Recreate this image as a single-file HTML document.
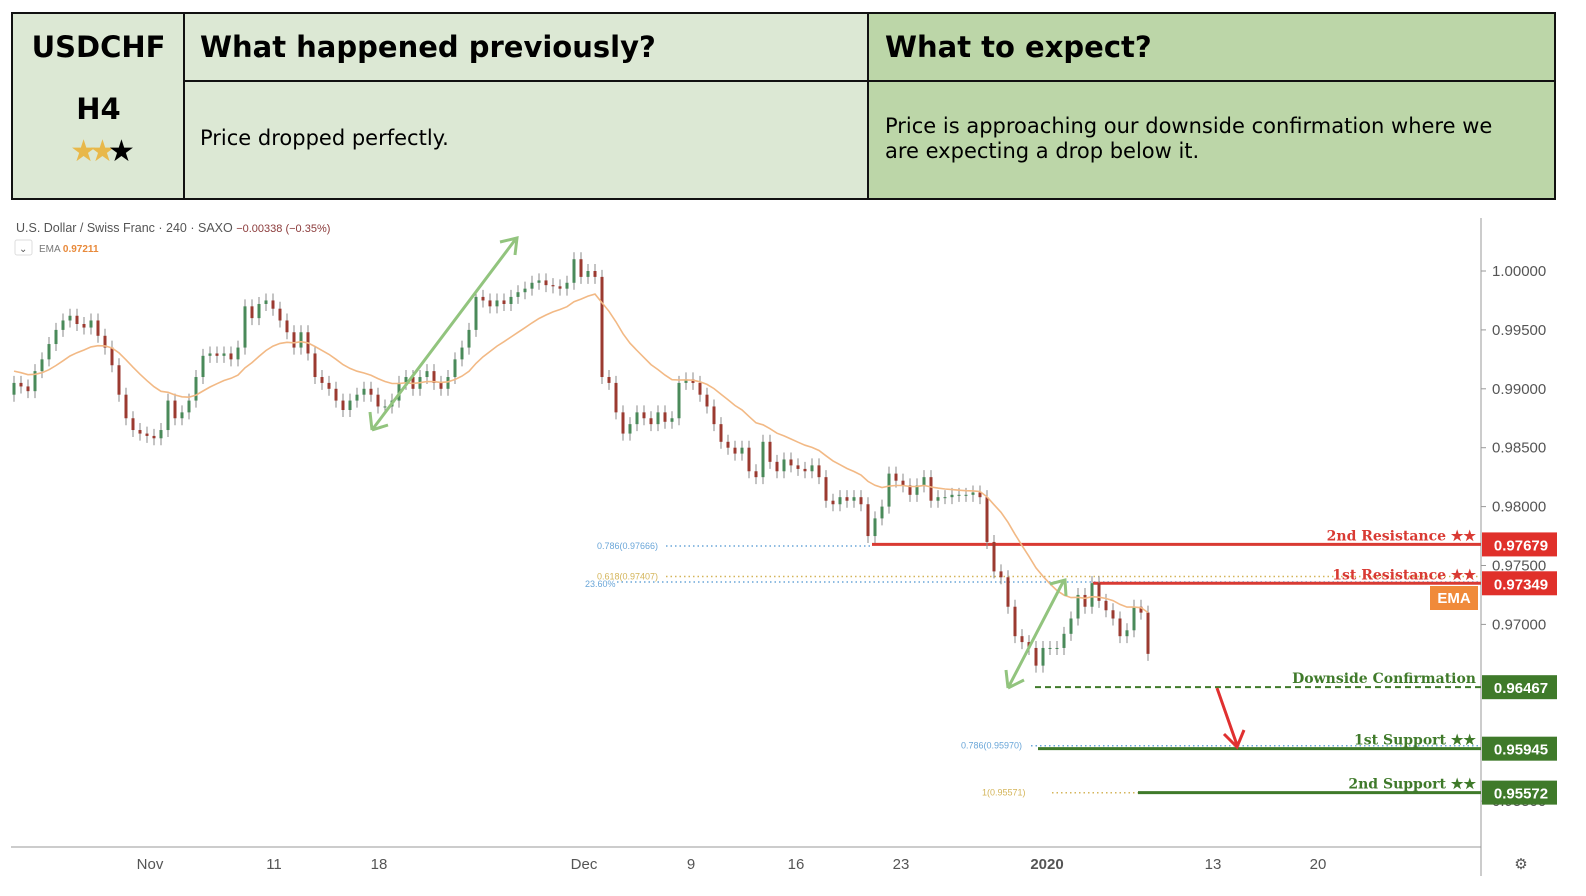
<!DOCTYPE html>
<html><head><meta charset="utf-8">
<style>
body{margin:0;width:1586px;height:896px;background:#fff;overflow:hidden;font-family:"DejaVu Sans","Liberation Sans",sans-serif;position:relative}
.c{position:absolute;box-sizing:border-box}
</style></head><body>
<div>
<div class="c" style="left:11px;top:12px;width:173px;height:188px;background:#dce8d4;border:2px solid #111;border-right:none;text-align:center">
<div style="font-weight:bold;font-size:29px;margin-top:16px">USDCHF</div>
<div style="font-weight:bold;font-size:29px;margin-top:28px">H4</div>
<div style="font-size:30px;margin-top:8px;letter-spacing:-8px"><span style="color:#e8b84a">★★</span><span style="color:#000">★</span></div>
</div>
<div class="c" style="left:183px;top:12px;width:686px;height:70px;background:#dce8d4;border:2px solid #111;font-weight:bold;font-size:29px;padding:16px 0 0 15px">What happened previously?</div>
<div class="c" style="left:183px;top:82px;width:686px;height:118px;background:#dce8d4;border:2px solid #111;border-top:none;font-size:21px;padding:44px 0 0 15px">Price dropped perfectly.</div>
<div class="c" style="left:867px;top:12px;width:689px;height:70px;background:#bcd6a8;border:2px solid #111;font-weight:bold;font-size:29px;padding:16px 0 0 16px">What to expect?</div>
<div class="c" style="left:867px;top:82px;width:689px;height:118px;background:#bcd6a8;border:2px solid #111;border-top:none;font-size:21px;line-height:25px;padding:32px 14px 0 16px"><span style="display:block;width:655px">Price is approaching our downside confirmation where we<br>are expecting a drop below it.</span></div>
</div>

<svg id="chart" width="1586" height="896" style="position:absolute;left:0;top:0" font-family="Liberation Sans, sans-serif">
<text x="16" y="232" font-size="12.5" fill="#555">U.S. Dollar / Swiss Franc · 240 · SAXO <tspan fill="#8b3a3a" font-size="11">−0.00338 (−0.35%)</tspan></text>
<rect x="15" y="240" width="17" height="15" rx="2" fill="#fff" stroke="#ddd"/>
<text x="19" y="252" font-size="10" fill="#555">⌄</text>
<text x="39" y="252" font-size="10" fill="#777">EMA <tspan fill="#e8893a" font-weight="bold">0.97211</tspan></text>
<line x1="1481" y1="218" x2="1481" y2="876" stroke="#999"/>
<line x1="11" y1="847" x2="1481" y2="847" stroke="#999"/>
<g id="yticks"></g><g id="xticks"></g><g id="levels"></g><g id="candles"></g><path id="ema" fill="none" stroke="#f2b985" stroke-width="1.6"/>
<g id="arrows" fill="none" stroke-width="3">
<path d="M372 430 L515 240 M500 242 L517 238 L515 255 M372 430 L370 412 M372 430 L388 425" stroke="#92c47e"/>
<path d="M1008 688 L1063 582 M1050 584 L1065 580 L1066 596 M1008 688 L1006 670 M1008 688 L1024 680" stroke="#92c47e"/>
<path d="M1217 688 L1237 745 M1224 734 L1237 747 L1244 730" stroke="#e03030"/>
</g>
<text x="1521" y="869" font-size="15" fill="#555" text-anchor="middle">⚙</text>
</svg>
<script>
const closes=[0.9905,0.9902,0.9898,0.9915,0.9925,0.9938,0.9950,0.9958,0.9962,0.9955,0.9952,0.9958,0.9945,0.9935,0.9920,0.9895,0.9875,0.9865,0.9862,0.9860,0.9858,0.9865,0.9890,0.9875,0.9880,0.9890,0.9910,0.9928,0.9930,0.9928,0.9930,0.9925,0.9935,0.9970,0.9960,0.9972,0.9975,0.9968,0.9958,0.9948,0.9935,0.9948,0.9930,0.9910,0.9905,0.9900,0.9890,0.9882,0.9890,0.9895,0.9900,0.9895,0.9885,0.9885,0.9890,0.9905,0.9910,0.9900,0.9910,0.9915,0.9905,0.9900,0.9910,0.9925,0.9935,0.9950,0.9978,0.9975,0.9970,0.9975,0.9972,0.9978,0.9982,0.9985,0.9990,0.9992,0.9988,0.9987,0.9985,0.9990,1.0010,0.9995,1.0000,0.9995,0.9910,0.9905,0.9880,0.9862,0.9870,0.9880,0.9875,0.9870,0.9880,0.9872,0.9875,0.9905,0.9908,0.9905,0.9895,0.9885,0.9870,0.9855,0.9850,0.9845,0.9850,0.9830,0.9825,0.9855,0.9838,0.9830,0.9840,0.9835,0.9832,0.9830,0.9835,0.9825,0.9805,0.9802,0.9808,0.9805,0.9808,0.9802,0.9775,0.9790,0.9800,0.9828,0.9822,0.9818,0.9810,0.9818,0.9825,0.9805,0.9808,0.9808,0.9810,0.9810,0.9810,0.9812,0.9808,0.9770,0.9745,0.9740,0.9715,0.9690,0.9685,0.9680,0.9665,0.9680,0.9680,0.9680,0.9692,0.9705,0.9725,0.9715,0.9735,0.9720,0.9712,0.9705,0.9690,0.9695,0.9715,0.9710,0.9675];
const firstOpen=0.9895;
const yTicks=[1.0000,0.9950,0.9900,0.9850,0.9800,0.9750,0.9700,0.9550];
const xLabels=["Nov","11","18","Dec","9","16","23","2020","13","20"];
const xLabelPos=[150,274,379,584,691,796,901,1047,1213,1318];
const levelNames=["2nd Resistance ★★","1st Resistance ★★","Downside Confirmation","1st Support ★★","2nd Support ★★"];
const levelValues=[0.97679,0.97349,0.96467,0.95945,0.95572];
const levelStart=[872,1093,1035,1038,1138];
const fibLabels=["0.786(0.97666)","0.618(0.97407)","23.60%","0.786(0.95970)","1(0.95571)"];
const fibValues=[0.97666,0.97407,0.9736,0.9597,0.95571];
const emaPeriod=18;

const NS="http://www.w3.org/2000/svg";
const y=p=>271+(1-p)*11780;
const x=i=>14+i*7;
function mk(tag,attrs,parent,text){const e=document.createElementNS(NS,tag);for(const k in attrs)e.setAttribute(k,attrs[k]);if(text!==undefined)e.textContent=text;document.getElementById(parent).appendChild(e);return e;}

yTicks.forEach(t=>{
 const e=mk('text',{x:1492,y:y(t)+5,'font-size':15,fill:'#555'},'yticks',t.toFixed(5));
 
 
 mk('line',{x1:1481,x2:1486,y1:y(t),y2:y(t),stroke:'#999'},'yticks');
});
xLabels.forEach((l,i)=>{
 const e=mk('text',{x:xLabelPos[i],y:869,'font-size':15,fill:'#555','text-anchor':'middle','font-weight':l==='2020'?'bold':'normal'},'xticks',l);
 
 
});

fibValues.forEach((v,i)=>{
 const left=i<3?(i==2?585:597):(i==3?961:982);
 const col=(i==1||i==4)?'#d4b55a':'#6aa6d8';
 const end=i==0?872:(i==3?1481:(i==4?1140:1481));
 const t=mk('text',{x:left,y:y(v)+(i==2?5:3),'font-size':9,fill:col},'levels',fibLabels[i]);
 
 
 const l=mk('line',{x1:left+(i==2?32:(i<3?69:70)),x2:end,y1:y(v),y2:y(v),stroke:col,'stroke-width':1.5,'stroke-dasharray':'1.5 3'},'levels');
 
 
});

levelValues.forEach((v,i)=>{
 const red=i<2;const col=red?'#d93a33':'#3f7a2a';
 const l=mk('line',{x1:levelStart[i],x2:1481,y1:y(v),y2:y(v),stroke:col,'stroke-width':i==2?2:3,'stroke-dasharray':i==2?'6 4':'none'},'levels');
 
 
 const t=mk('text',{x:1476,y:y(v)-4,'font-size':14,'font-weight':'bold',fill:col,'text-anchor':'end','font-family':'DejaVu Serif, Liberation Serif, serif'},'levels',levelNames[i]);
 
 
 const r=mk('rect',{x:1482,y:y(v)-12,width:75,height:24,fill:red?'#e0302a':'#3f7a2a'},'levels');
 
 
 mk('text',{x:1521,y:y(v)+6,'font-size':15,'font-weight':'bold',fill:'#fff','text-anchor':'middle'},'levels',v.toFixed(5));
});
const er=mk('rect',{x:1430,y:586,width:48,height:24,fill:'#f08a3a'},'levels');


mk('text',{x:1454,y:603,'font-size':15,'font-weight':'bold',fill:'#fff','text-anchor':'middle'},'levels','EMA');

closes.forEach((c,i)=>{
 const o=i==0?firstOpen:closes[i-1];
 const up=c>=o;const col=up?'#4a8a5a':'#9b3a30';
 const top=y(Math.max(o,c)),bot=y(Math.min(o,c));
 const w=mk('line',{x1:x(i),x2:x(i),y1:top-7,y2:bot+7,stroke:'#888','stroke-width':1},'candles');
 
 
 const b=mk('rect',{x:x(i)-1.5,y:top,width:3,height:Math.max(1,bot-top),fill:col},'candles');
 
 
});

let e=0.9915,d='';const k=2/(emaPeriod+1);
closes.forEach((c,i)=>{e=i==0?e:c*k+e*(1-k);d+=(i?'L':'M')+x(i)+' '+y(e).toFixed(1);});
document.getElementById('ema').setAttribute('d',d);
</script>
</body></html>
